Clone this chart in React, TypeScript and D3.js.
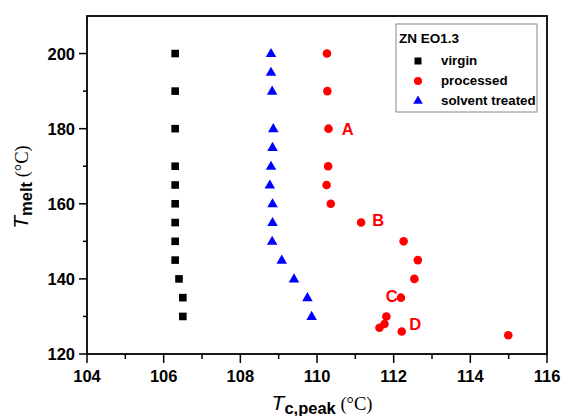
import React from "react";
import * as d3 from "d3";

const virginT = [200, 190, 180, 170, 165, 160, 155, 150, 145, 140, 135, 130];
const virginTc = [106.3, 106.3, 106.3, 106.3, 106.3, 106.3, 106.3, 106.3, 106.3, 106.4, 106.5, 106.5];

const solventT = [200, 195, 190, 180, 175, 170, 165, 160, 155, 150, 145, 140, 135, 130];
const solventTc = [108.8, 108.8, 108.83, 108.86, 108.84, 108.8, 108.77, 108.84, 108.84, 108.83, 109.08, 109.4, 109.75, 109.86];

const processedT = [200, 190, 180, 170, 165, 160, 155, 150, 145, 140, 135, 130, 128, 127, 126, 125];
const processedTc = [110.26, 110.27, 110.3, 110.29, 110.25, 110.36, 111.15, 112.26, 112.63, 112.54, 112.19, 111.81, 111.76, 111.63, 112.21, 114.99];

const annotLabels = ["A", "B", "C", "D"];
const annotTc = [110.8, 111.6, 111.95, 112.56];
const annotT = [180, 155.7, 135.4, 128];

const xMajor = [104, 106, 108, 110, 112, 114, 116];
const xMinor = [105, 107, 109, 111, 113, 115];
const yMajor = [120, 140, 160, 180, 200];
const yMinor = [130, 150, 170, 190];

const legendTitle = "ZN EO1.3";
const seriesNames = ["virgin", "processed", "solvent treated"];

const W = 562, H = 416;
const L = 87, R = 547, T = 16, B = 354;

export default function App() {
  const x = d3.scaleLinear().domain([104, 116]).range([L, R]);
  const y = d3.scaleLinear().domain([120, 210]).range([B, T]);
  const tri = d3.symbol().type(d3.symbolTriangle).size(48)() as string;
  const font = "Arial, 'Liberation Sans', sans-serif";

  return (
    <svg width={W} height={H} style={{ position: "absolute", left: 0, top: 0, background: "#fff" }} fontFamily={font}>
      <rect x={0} y={0} width={W} height={H} fill="#fff" />
      {/* frame */}
      <rect x={L} y={T} width={R - L} height={B - T} fill="none" stroke="#000" strokeWidth={1.8} />
      {/* x ticks */}
      {xMajor.map((v) => (
        <g key={"xm" + v}>
          <line x1={x(v)} x2={x(v)} y1={B} y2={B + 9} stroke="#000" strokeWidth={1.5} />
          <text x={x(v)} y={B + 28} textAnchor="middle" fontSize={16.5} fontWeight="bold">{v}</text>
        </g>
      ))}
      {xMinor.map((v) => (
        <line key={"xn" + v} x1={x(v)} x2={x(v)} y1={B} y2={B + 5} stroke="#000" strokeWidth={1.5} />
      ))}
      {yMajor.map((v) => (
        <g key={"ym" + v}>
          <line x1={L - 8} x2={L} y1={y(v)} y2={y(v)} stroke="#000" strokeWidth={1.5} />
          <text x={L - 12} y={y(v) + 6} textAnchor="end" fontSize={16.5} fontWeight="bold">{v}</text>
        </g>
      ))}
      {yMinor.map((v) => (
        <line key={"yn" + v} x1={L - 4} x2={L} y1={y(v)} y2={y(v)} stroke="#000" strokeWidth={1.5} />
      ))}
      {/* data */}
      {virginT.map((t, i) => (
        <rect key={"v" + i} x={x(virginTc[i]) - 3.8} y={y(t) - 3.8} width={7.6} height={7.6} fill="#000" />
      ))}
      {solventT.map((t, i) => (
        <path key={"s" + i} d={tri} transform={`translate(${x(solventTc[i])},${y(t) + 0.5})`} fill="#0000ff" />
      ))}
      {processedT.map((t, i) => (
        <circle key={"p" + i} cx={x(processedTc[i])} cy={y(t)} r={4.3} fill="#ff0000" />
      ))}
      {annotLabels.map((s, i) => (
        <text key={"a" + i} x={x(annotTc[i])} y={y(annotT[i]) + 6} fontSize={16.5} fontWeight="bold" fill="#ff0000" textAnchor="middle">{s}</text>
      ))}
      {/* legend */}
      <rect x={396} y={24} width={141} height={88} fill="#fff" stroke="#888" strokeWidth={1} />
      <text x={399} y={43} fontSize={13.5} fontWeight="bold">{legendTitle}</text>
      <rect x={418 - 3.5} y={61 - 3.5} width={7} height={7} fill="#000" />
      <circle cx={418} cy={81} r={4} fill="#ff0000" />
      <path d={d3.symbol().type(d3.symbolTriangle).size(40)() as string} transform="translate(418,101)" fill="#0000ff" />
      {seriesNames.map((s, i) => (
        <text key={"l" + i} x={441} y={65 + i * 20} fontSize={13.3} fontWeight="bold">{s}</text>
      ))}
      {/* axis titles */}
      <text x={322} y={410} textAnchor="middle" fontSize={19}>
        <tspan fontStyle="italic" fontWeight="normal" fontSize={21}>T</tspan>
        <tspan fontWeight="bold" fontSize={16.5} dy={4}>c,peak</tspan>
        <tspan fontFamily="'Liberation Serif', 'Times New Roman', serif" fontSize={18.5} dy={-4}> (°C)</tspan>
      </text>
      <text transform={`translate(28,${(T + B) / 2 + 2}) rotate(-90)`} textAnchor="middle" fontSize={19}>
        <tspan fontStyle="italic" fontWeight="normal" fontSize={21}>T</tspan>
        <tspan fontWeight="bold" fontSize={16.5} dy={4}>melt</tspan>
        <tspan fontFamily="'Liberation Serif', 'Times New Roman', serif" fontSize={18.5} dy={-4}> (°C)</tspan>
      </text>
    </svg>
  );
}
